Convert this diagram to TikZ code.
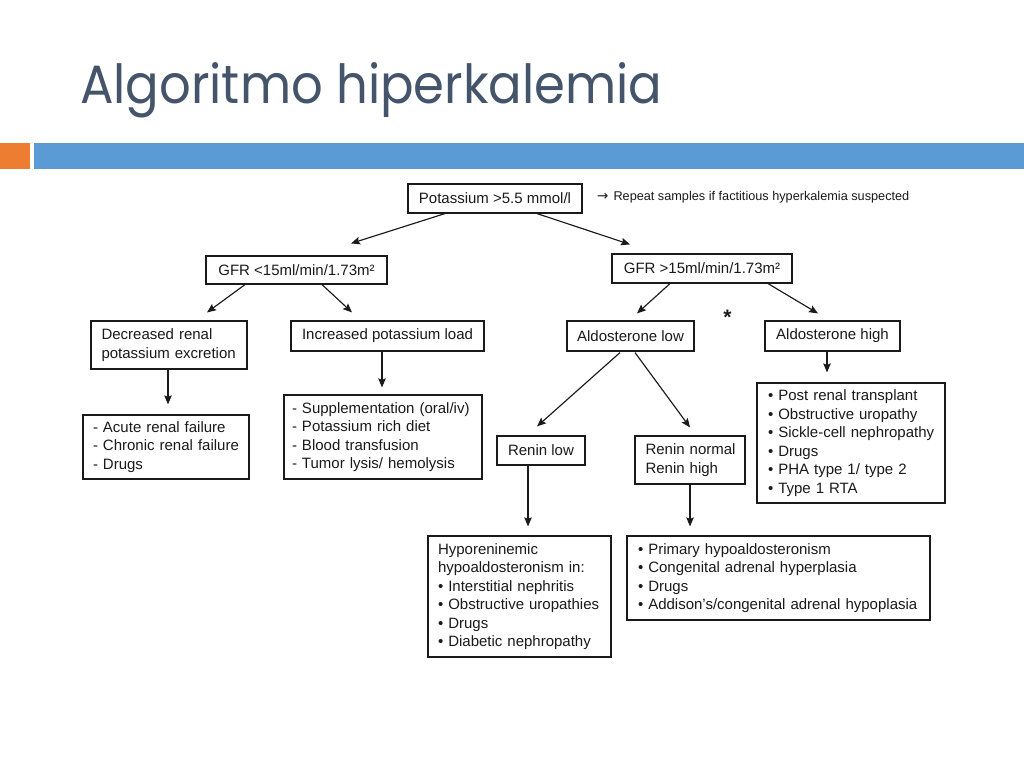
\documentclass[tikz,border=0pt]{standalone}
\usepackage{fontspec}
\setmainfont{Liberation Sans}
\newfontfamily\titlefont{Poppins}
\newfontfamily\symfont{DejaVu Sans}
\usetikzlibrary{arrows.meta,calc}
\definecolor{titlec}{HTML}{44546A}
\definecolor{orangebar}{HTML}{ED7D31}
\definecolor{bluebar}{HTML}{5B9BD5}
\definecolor{ink}{HTML}{1A1A1A}
\newcommand\boxfont{\fontsize{15}{18.5}\selectfont}
\newcommand\notefont{\fontsize{12.7}{15}\selectfont}
\newcommand\Li[1]{\mbox{#1}}
\begin{document}
\begin{tikzpicture}[x=1pt,y=-1pt,
  cbox/.style={draw=ink, text=ink, line width=1.15pt, inner sep=0pt, font=\boxfont, align=center},
  lbox/.style={draw=ink, text=ink, line width=1.15pt, inner ysep=0pt, font=\boxfont, align=left},
  arr/.style={draw=ink, line width=1.15pt, -{Stealth[length=9pt,width=7.5pt,inset=1.5pt]}}]
\useasboundingbox (0,0) rectangle (1024,768);
\fill[white] (0,0) rectangle (1024,768);
% header bars
\fill[orangebar] (0,143) rectangle (30,169);
\fill[bluebar] (34,143) rectangle (1024,169);
% title
\node[anchor=base west, inner sep=0pt, text=titlec, font=\titlefont] (title) at (80,103)
  {\resizebox{582pt}{41pt}{\fontsize{40}{40}\selectfont Algoritmo hiperkalemia}};
% boxes
\node[cbox, minimum width=174, minimum height=29] (pot) at (495,198.5) {Potassium >5.5 mmol/l};
\node[anchor=west, inner sep=0pt, font=\notefont, text=ink] (note) at (597,197)
  {{\symfont\fontsize{13.5}{13.5}\selectfont →}\hspace{5pt}Repeat samples if factitious hyperkalemia suspected};
\node[cbox, minimum width=181, minimum height=28] (gfrL) at (296.5,270) {GFR <15ml/min/1.73m²};
\node[cbox, minimum width=180, minimum height=29] (gfrR) at (702,268.5) {GFR >15ml/min/1.73m²};
\node[lbox, inner xsep=10.5pt, text width=135pt, minimum height=48] (dec) at (169,345)
  {\Li{Decreased renal}\\\Li{potassium excretion}};
\node[cbox, minimum width=193, minimum height=30] (inc) at (387.5,336) {Increased potassium load};
\node[cbox, minimum width=127, minimum height=30] (aldL) at (630.5,336) {Aldosterone low};
\node[anchor=north, inner sep=0pt, text=ink, font=\fontsize{21}{21}\selectfont\bfseries] (star) at (727.5,310) {*};
\node[cbox, minimum width=135, minimum height=30] (aldH) at (832.5,336) {Aldosterone high};
\node[lbox, inner xsep=10pt, text width=146pt, minimum height=64] (acute) at (166,447)
  {\Li{- Acute renal failure}\\\Li{- Chronic renal failure}\\\Li{- Drugs}};
\node[lbox, inner xsep=8pt, text width=182pt, minimum height=84] (supp) at (383,437)
  {\Li{- Supplementation (oral/iv)}\\\Li{- Potassium rich diet}\\\Li{- Blood transfusion}\\\Li{- Tumor lysis/ hemolysis}};
\node[cbox, minimum width=88, minimum height=29] (reninL) at (541,450.5) {Renin low};
\node[lbox, inner xsep=10.5pt, text width=89pt, minimum height=48] (reninN) at (690,460)
  {\Li{Renin normal}\\\Li{Renin high}};
\node[lbox, inner xsep=11pt, text width=166pt, minimum height=120] (post) at (851,443)
  {\Li{• Post renal transplant}\\\Li{• Obstructive uropathy}\\\Li{• Sickle-cell nephropathy}\\\Li{• Drugs}\\\Li{• PHA type 1/ type 2}\\\Li{• Type 1 RTA}};
\node[lbox, inner xsep=10pt, text width=163pt, minimum height=121] (hypo) at (519.5,596.5)
  {\Li{Hyporeninemic}\\\Li{hypoaldosteronism in:}\\\Li{• Interstitial nephritis}\\\Li{• Obstructive uropathies}\\\Li{• Drugs}\\\Li{• Diabetic nephropathy}};
\node[lbox, inner xsep=11pt, text width=281pt, minimum height=84] (prim) at (778.5,578)
  {\Li{• Primary hypoaldosteronism}\\\Li{• Congenital adrenal hyperplasia}\\\Li{• Drugs}\\\Li{• Addison’s/congenital adrenal hypoplasia}};
% connectors
\draw[arr] ($(pot.south)+(-50,0)$) -- ($(gfrL.north)+(54.5,-12)$);
\draw[arr] ($(pot.south)+(42,0)$) -- ($(gfrR.north)+(-72,-9)$);
\draw[arr] ($(gfrL.south)+(-51.5,0)$) -- ($(dec.north)+(38,-8)$);
\draw[arr] ($(gfrL.south)+(25.5,0)$) -- ($(inc.north)+(-35.5,-8)$);
\draw[arr] ($(dec.south)+(-1,0)$) -- ($(dec.south |- acute.north)+(-1,-10)$);
\draw[arr] ($(inc.south)+(-5.5,0)$) -- ($(inc.south |- supp.north)+(-5.5,-7)$);
\draw[arr] ($(gfrR.south)+(-32,0)$) -- ($(aldL.north)+(6.5,-7)$);
\draw[arr] ($(gfrR.south)+(66,0)$) -- ($(aldH.north)+(-14.5,-7)$);
\draw[arr] ($(aldL.south)+(-10.5,1)$) -- ($(reninL.north)+(-4,-9)$);
\draw[arr] ($(aldL.south)+(4.5,1)$) -- ($(reninN.north)+(0,-8)$);
\draw[arr] ($(aldH.south)+(-5.5,0)$) -- ($(aldH.south |- post.north)+(-5.5,-10)$);
\draw[arr] ($(reninL.south)+(-13,0)$) -- ($(reninL.south |- hypo.north)+(-13,-9)$);
\draw[arr] (reninN.south) -- ($(reninN.south |- prim.north)+(0,-9)$);
\end{tikzpicture}
\end{document}
